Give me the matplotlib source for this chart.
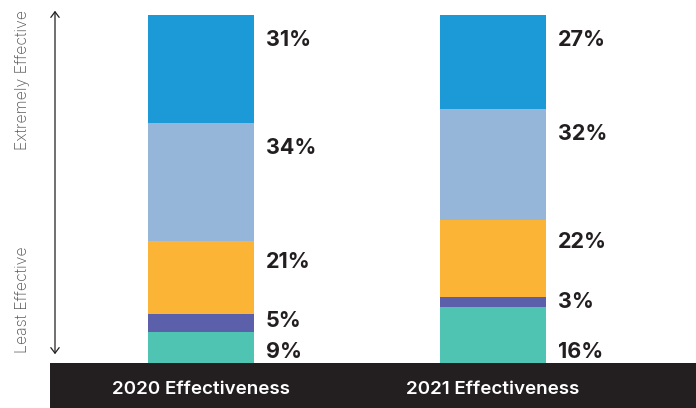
import matplotlib
matplotlib.use("Agg")
import matplotlib.pyplot as plt
from matplotlib.patches import Rectangle, FancyArrowPatch
import numpy as np

categories = ["2020 Effectiveness", "2021 Effectiveness"]
# segments from bottom (least effective) to top (extremely effective)
seg_names = ["Least", "Low", "Moderate", "Very", "Extremely"]
vals_2020 = [9, 5, 21, 34, 31]
vals_2021 = [16, 3, 22, 32, 27]
colors = ["#4fc4b3", "#5c60ab", "#fbb436", "#95b6d9", "#1b9ad7"]

FONT = ["Inter", "Liberation Sans", "DejaVu Sans"]

W, H = 696, 408
fig = plt.figure(figsize=(W / 100, H / 100), dpi=100)
fig.patch.set_facecolor("white")

# dark band at bottom
fig.patches.append(Rectangle((50 / W, 0), 1 - 50 / W, 45 / H,
                             transform=fig.transFigure, facecolor="#231f20",
                             edgecolor="none", zorder=0))

ax = fig.add_axes([50 / W, (H - 363) / H, 646 / W, 348 / H])
ax.set_zorder(2)
ax.patch.set_visible(False)
ax.set_xlim(-151 / 292, 1 + 203 / 292)
ax.set_ylim(0, 100)

data = np.array([vals_2020, vals_2021])
x = np.arange(len(categories))
bottom = np.zeros(len(categories))
bw = 106 / 292
for i in range(len(seg_names)):
    ax.bar(x, data[:, i], bottom=bottom, width=bw, color=colors[i],
           linewidth=0, zorder=2)
    bottom += data[:, i]

# value labels right of each bar
for j in range(len(categories)):
    cum = np.cumsum(data[j])
    for i in range(len(seg_names)):
        top = cum[i]
        seg = data[j, i]
        if i == 0:
            y = 3.3
        else:
            y = top - min(7.2, 0.26 * seg + 0.6)
        ax.text(x[j] + bw / 2 + 0.04, y, f"{seg}%", ha="left", va="center",
                fontsize=15.5, fontweight="bold", color="#231f20",
                family=FONT, clip_on=False)

for s in ax.spines.values():
    s.set_visible(False)
ax.set_yticks([])
ax.set_xticks(x)
ax.set_xticklabels(categories, color="white", fontsize=13.5,
                   family=FONT, fontweight="semibold")
ax.tick_params(axis="x", length=0, pad=13)

# side arrow
fig.add_artist(FancyArrowPatch(
    (55 / W, (H - 357) / H), (55 / W, (H - 8) / H),
    transform=fig.transFigure, arrowstyle="<->,head_length=4,head_width=3",
    color="#231f20", linewidth=0.9, mutation_scale=1))

fig.text(22 / W, (H - 80) / H, "Extremely Effective", rotation=90,
         ha="center", va="center", fontsize=11.5, color="#555555",
         family=FONT, fontweight="light")
fig.text(22 / W, (H - 300) / H, "Least Effective", rotation=90,
         ha="center", va="center", fontsize=11.5, color="#555555",
         family=FONT, fontweight="light")

fig.savefig("out.png", dpi=100, facecolor="white")
